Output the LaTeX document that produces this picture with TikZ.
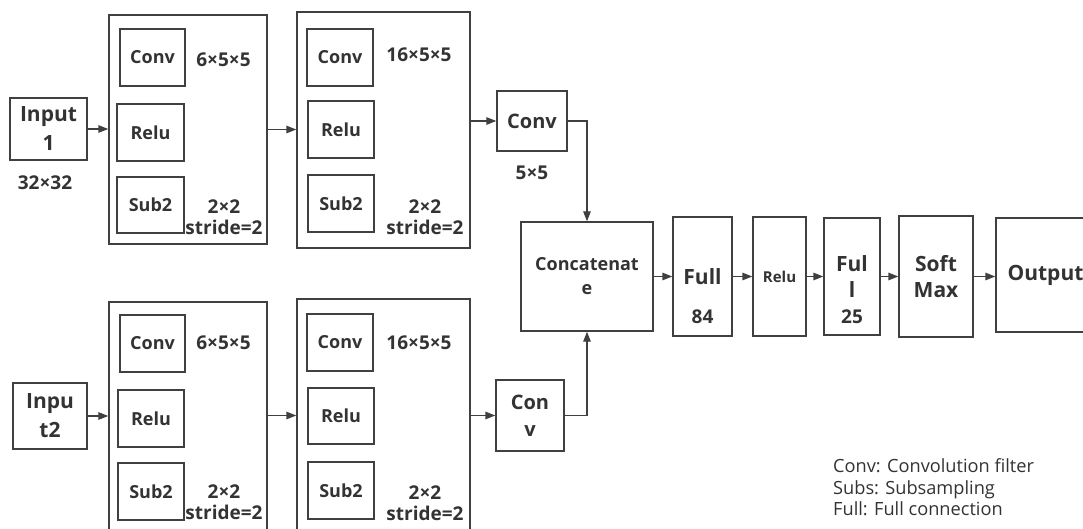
\documentclass[tikz,border=0pt]{standalone}
\usepackage{fontspec}
\setmainfont{Open Sans}
\usetikzlibrary{arrows.meta}
\definecolor{ink}{HTML}{404040}
\definecolor{txt}{HTML}{333333}
\newcommand{\fs}[2]{\fontsize{#1}{#2}\selectfont}
\tikzset{
  box/.style={draw=ink, line width=1.4pt, inner sep=0pt, text=txt, align=center,
    font=\fs{18}{22}\bfseries},
  big/.style={draw=ink, line width=1.4pt, inner sep=0pt},
  lbl/.style={inner sep=0pt, text=txt, align=center, font=\fs{19}{21}\bfseries},
  link/.style={draw=ink, line width=1.4pt, -{Triangle[length=10pt,width=7.5pt]}},
}
\begin{document}
\begin{tikzpicture}[x=1pt,y=-1pt]
\clip (0,0) rectangle (1083,529);
\fill[white] (0,0) rectangle (1083,529);

% upper branch
\node[box, minimum width=77, minimum height=62, font=\fs{21}{29}\bfseries] (in1) at (48.5,129) {Input\\1};
\node[lbl] (in1s) at (45,183) {32×32};

\node[big, minimum width=158, minimum height=229] (b1) at (188,129.5) {};
\node[box, minimum width=65, minimum height=57] (c1a) at (152.5,57.5) {Conv};
\node[box, minimum width=67, minimum height=57] (r1a) at (150.5,132.5) {Relu};
\node[box, minimum width=67, minimum height=56] (s1a) at (150.5,205) {Sub2};
\node[lbl] (k1a) at (223.5,60) {6×5×5};
\node[lbl] (p1a) at (224,217.5) {2×2\\stride=2};

\node[big, minimum width=173, minimum height=236] (b2) at (383.5,130) {};
\node[box, minimum width=66, minimum height=57] (c1b) at (340,57.5) {Conv};
\node[box, minimum width=66, minimum height=57] (r1b) at (341,129.5) {Relu};
\node[box, minimum width=66, minimum height=57] (s1b) at (341,203.5) {Sub2};
\node[lbl] (k1b) at (419,55) {16×5×5};
\node[lbl] (p1b) at (425,217.5) {2×2\\stride=2};

\node[box, minimum width=70, minimum height=60, font=\fs{20}{26}\bfseries] (cv1) at (532,121) {Conv};
\node[lbl] (cv1s) at (532,173) {5×5};

% lower branch
\node[box, minimum width=74, minimum height=66, font=\fs{21}{29}\bfseries] (in2) at (50,416) {Inpu\\t2};

\node[big, minimum width=158, minimum height=250] (b3) at (188,427) {};
\node[box, minimum width=65, minimum height=57] (c2a) at (152.5,343.5) {Conv};
\node[box, minimum width=66, minimum height=57] (r2a) at (151,418.5) {Relu};
\node[box, minimum width=66, minimum height=57] (s2a) at (151,491.5) {Sub2};
\node[lbl] (k2a) at (223.5,343) {6×5×5};
\node[lbl] (p2a) at (224,502.5) {2×2\\stride=2};

\node[big, minimum width=173, minimum height=250] (b4) at (383.5,424) {};
\node[box, minimum width=66, minimum height=57] (c2b) at (340,342.5) {Conv};
\node[box, minimum width=66, minimum height=56] (r2b) at (341,416) {Relu};
\node[box, minimum width=66, minimum height=57] (s2b) at (341,490.5) {Sub2};
\node[lbl] (k2b) at (419,343) {16×5×5};
\node[lbl] (p2b) at (425,503) {2×2\\stride=2};

\node[box, minimum width=68, minimum height=71, font=\fs{20}{27}\bfseries] (cv2) at (530,415.5) {Con\\v};

% merged head
\node[box, minimum width=132, minimum height=109, font=\fs{18}{24}\bfseries] (cat) at (587,276.5) {Concatenat\\e};
\node[box, minimum width=59, minimum height=119, font=\fs{21}{26}\bfseries] (f1) at (702.5,276.5) {Full};
\node[lbl, font=\fs{19}{24}\bfseries] (f1s) at (702.5,317) {84};
\node[box, minimum width=53, minimum height=119, font=\fs{15}{20}\bfseries] (rl) at (779.5,276.5) {Relu};
\node[box, minimum width=56, minimum height=117, font=\fs{21}{26}\bfseries] (f2) at (852,276.5) {Ful\\l};
\node[lbl, font=\fs{19}{24}\bfseries] (f2s) at (852,317) {25};
\node[box, minimum width=74, minimum height=121, font=\fs{21}{26}\bfseries] (sm) at (936,276.5) {Soft\\Max};
\node[box, minimum width=99, minimum height=114, font=\fs{21}{26}\bfseries] (out) at (1045.5,275) {Output};

% legend
\node[inner sep=0pt, anchor=west, align=left, text=txt, font=\fs{18.2}{21.5}\selectfont] (leg) at (833,487.5)
  {Conv: Convolution filter\\Subs: Subsampling\\Full: Full connection};

% connectors
\draw[link] (in1.east) -- (in1.east -| b1.west);
\draw[link] (b1.east) -- (b1.east -| b2.west);
\draw[link] (cv1.west -| b2.east) -- (cv1.west);
\draw[link] (cv1.east) -| (cat.north);

\draw[link] (in2.east) -- (in2.east -| b3.west);
\draw[link] (cv2.west -| b3.east) -- (cv2.west -| b4.west);
\draw[link] (cv2.west -| b4.east) -- (cv2.west);
\draw[link] (cv2.east) -| (cat.south);

\draw[link] (cat.east) -- (f1.west);
\draw[link] (f1.east) -- (rl.west);
\draw[link] (rl.east) -- (f2.west);
\draw[link] (f2.east) -- (sm.west);
\draw[link] (sm.east) -- (sm.east -| out.west);
\end{tikzpicture}
\end{document}
